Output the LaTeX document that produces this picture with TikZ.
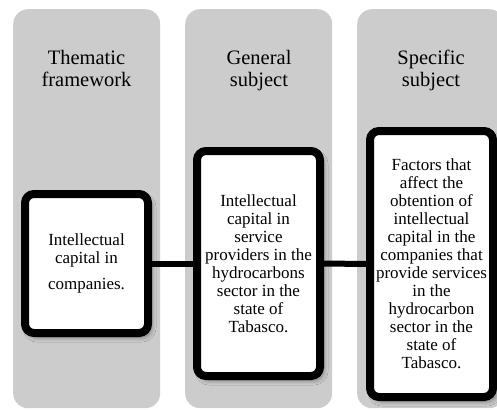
\documentclass[tikz,border=0pt]{standalone}
\usepackage{fontspec}
\setmainfont{LiberationSerif}[Extension=.ttf, UprightFont=*-Regular, BoldFont=*-Bold, ItalicFont=*-Italic, BoldItalicFont=*-BoldItalic]
\usetikzlibrary{shadows.blur}
\definecolor{colgray}{RGB}{204,204,204}
\tikzset{
  column/.style={fill=colgray, draw=none, rounded corners=15pt, inner sep=0pt,
    minimum width=147pt, minimum height=399pt, anchor=north west},
  header/.style={align=center, inner sep=0pt, anchor=base, font=\fontsize{20.5}{22}\selectfont},
  box/.style={draw=black, fill=white, line width=8pt, rounded corners=9pt,
    minimum width=123pt, inner sep=0pt, align=center,
    font=\fontsize{17}{18}\selectfont,
    blur shadow={shadow xshift=3pt, shadow yshift=-4pt, shadow blur steps=10,
      shadow opacity=45, shadow blur radius=5pt}},
  link/.style={draw=black, line width=6pt}
}
\begin{document}
\begin{tikzpicture}[x=1pt,y=-1pt]
\useasboundingbox (0,0) rectangle (497,409);
\clip (0,0) rectangle (497,409);
\fill[white] (0,0) rectangle (497,409);
\node[column] (col1) at (13,9) {};
\node[column] (col2) at (185,9) {};
\node[column] (col3) at (357,9) {};
\node[header] (h1) at (86.5,87) {Thematic\\framework};
\node[header] (h2) at (259,87) {General\\subject};
\node[header] (h3) at (431,87) {Specific\\subject};
\node[box, minimum height=139pt] (b1) at (86.5,263.5) {Intellectual\\capital in\\[8pt]companies.};
\node[box, minimum height=225pt] (b2) at (258.5,263.5) {Intellectual\\capital in\\service\\providers in the\\hydrocarbons\\sector in the\\state of\\Tabasco.};
\node[box, minimum height=266pt] (b3) at (431.5,264) {Factors that\\affect the\\obtention of\\intellectual\\capital in the\\companies that\\provide services\\in the\\hydrocarbon\\sector in the\\state of\\Tabasco.};
\draw[link] (b1.east) -- (b2.west);
\draw[link] (b2.east) -- (b3.west);
\end{tikzpicture}
\end{document}
